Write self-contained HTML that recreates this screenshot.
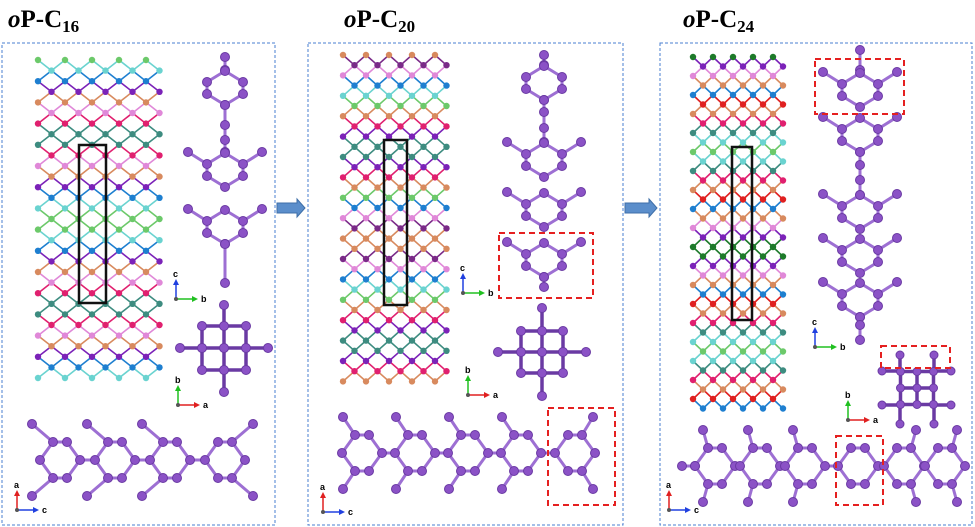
<!DOCTYPE html>
<html><head><meta charset="utf-8"><style>
body{margin:0;background:#fff;width:975px;height:527px;overflow:hidden}
.t{position:absolute;font-family:"Liberation Serif",serif;font-weight:bold;font-size:25px;color:#000}
.t i{font-style:italic}
.t sub{font-size:17px;vertical-align:-5px}
</style></head><body>
<div class="t" style="left:8px;top:6px"><i>o</i>P-C<sub>16</sub></div>
<div class="t" style="left:344px;top:6px"><i>o</i>P-C<sub>20</sub></div>
<div class="t" style="left:683px;top:6px"><i>o</i>P-C<sub>24</sub></div>
<svg id="s" width="975" height="527" style="position:absolute;left:0;top:0" xmlns="http://www.w3.org/2000/svg">
<g fill="none" stroke="#4a7fd0" stroke-width="1" stroke-dasharray="3,2">
<rect x="2" y="43" width="273" height="482"/>
<rect x="308" y="43" width="315" height="482"/>
<rect x="660" y="43" width="312" height="482"/>
</g>
<polygon points="277,203 297,203 297,199 305,208 297,217 297,213 277,213" fill="#5b8ecb" stroke="#3f6fa8"/>
<polygon points="625,203 649,203 649,199 657,208 649,217 649,213 625,213" fill="#5b8ecb" stroke="#3f6fa8"/>
</svg>
<script>
var s=document.getElementById('s'),NS='http://www.w3.org/2000/svg';
function el(n,a){var e=document.createElementNS(NS,n);for(var k in a)e.setAttribute(k,a[k]);s.appendChild(e);return e;}
var P='#8b52c6',PD='#6a3aa3';
function bond(a,b,c,w){el('line',{x1:a[0],y1:a[1],x2:b[0],y2:b[1],stroke:c||'#9d6fd3','stroke-width':w||3});}
function atom(p,r,c){el('circle',{cx:p[0],cy:p[1],r:r||4.5,fill:c||P,stroke:c?'none':PD,'stroke-width':1});}
function mol(atoms,bonds,w,r,bc){bonds.forEach(function(b){bond(atoms[b[0]],atoms[b[1]],bc,w)});atoms.forEach(function(a){atom(a,r)});}
function vring(cx,cy,sp){var A=[[cx,cy-17],[cx+18,cy-6],[cx+18,cy+6],[cx,cy+17],[cx-18,cy+6],[cx-18,cy-6]];var B=[[0,1],[1,2],[2,3],[3,4],[4,5],[5,0]];
if(sp){A.push([cx+37,cy-18]);A.push([cx-37,cy-18]);B.push([1,6]);B.push([5,7]);}mol(A,B);return A;}
function hring(cx,cy,up,dn){var A=[[cx-20,cy],[cx-7,cy-18],[cx+7,cy-18],[cx+20,cy],[cx+7,cy+18],[cx-7,cy+18]];var B=[[0,1],[1,2],[2,3],[3,4],[4,5],[5,0]];
if(up){A.push([cx+up,cy-36]);B.push([up<0?1:2,6]);}if(dn){A.push([cx+dn,cy+36]);B.push([dn<0?5:4,A.length-1]);}mol(A,B);return A;}
function vchain(x,ys){for(var i=0;i<ys.length-1;i++)bond([x,ys[i]],[x,ys[i+1]]);ys.forEach(function(y){atom([x,y])});}
function hchain(y,xs){for(var i=0;i<xs.length-1;i++)bond([xs[i],y],[xs[i+1],y]);xs.forEach(function(x){atom([x,y])});}
function hlink(y,cs){for(var i=0;i<cs.length-1;i++)bond([cs[i]+20,y],[cs[i+1]-20,y]);}
function square(cx,cy,nx,ny,d,ext,r,w){r=r||4.5;w=w||3.5;for(var i=0;i<ny;i++)for(var j=0;j<nx;j++){var x=cx+(j-(nx-1)/2)*d,y=cy+(i-(ny-1)/2)*d;
if(j<nx-1)bond([x,y],[x+d,y],PD,w);if(i<ny-1)bond([x,y],[x,y+d],PD,w);}
ext.forEach(function(e){bond(e[0],e[1],PD,w);atom(e[1],r);});
for(var i=0;i<ny;i++)for(var j=0;j<nx;j++)atom([cx+(j-(nx-1)/2)*d,cy+(i-(ny-1)/2)*d],r);}
function lattice(x0,y0,d,dy,rows,cols,C){for(var i=0;i<rows;i++){var y=y0+i*dy,o=(i%2)*d/2;for(var j=0;j<cols;j++){var x=x0+j*d+o;
if(i<rows-1){var o2=((i+1)%2)*d/2;[x-d/2,x+d/2].forEach(function(xx){if(xx>=x0+o2-1&&xx<=x0+(cols-1)*d+o2+1)bond([x,y],[xx,y+dy],C[(i+1)%C.length],1.6);});}}}
for(var i=0;i<rows;i++){var y=y0+i*dy,o=(i%2)*d/2;for(var j=0;j<cols;j++)atom([x0+j*d+o,y],3.2,C[i%C.length]);}}
function axes(x,y,a,b,ca,cb){el('line',{x1:x,y1:y,x2:x+18,y2:y,stroke:cb,'stroke-width':1.5});el('line',{x1:x,y1:y,x2:x,y2:y-16,stroke:ca,'stroke-width':1.5});
el('polygon',{points:(x+22)+','+y+' '+(x+16)+','+(y-3)+' '+(x+16)+','+(y+3),fill:cb});el('polygon',{points:x+','+(y-20)+' '+(x-3)+','+(y-14)+' '+(x+3)+','+(y-14),fill:ca});
var t=el('text',{x:x+25,y:y+3,'font-size':9,'font-family':'Liberation Sans','font-weight':'bold'});t.textContent=b;
var t2=el('text',{x:x-3,y:y-22,'font-size':9,'font-family':'Liberation Sans','font-weight':'bold'});t2.textContent=a;atom([x,y],2,'#555');}
function rbox(x,y,w,h){el('rect',{x:x,y:y,width:w,height:h,fill:'none',stroke:'#e52020','stroke-width':2,'stroke-dasharray':'6,4'});}
function cell(x,y,w,h){el('rect',{x:x,y:y,width:w,height:h,fill:'none',stroke:'#111','stroke-width':2.5});}
var g='#6cc96a',cy='#6ad3d0',bl='#1e7fd0',pu='#7b22b8',or='#d88a5e',pk='#e088d8',mg='#e0206f',tl='#3d8c80',rd='#e02020',dg='#1d7a2a',pl='#7a2a88';
// Panel 1
var C1=[g,cy,bl,pu,or,pk,mg,tl,tl,mg,pk,or,pu,bl,cy,g,g,cy,bl,pu,or,pk,mg,tl,tl,mg,pk,or,pu,bl,cy,g];
lattice(38,60,27,10.6,31,5,C1);cell(79,145,27,158);
vchain(225,[57,70]);vring(225,88);vchain(225,[105,125,140,152]);vring(225,170,1);vring(225,227,1);vchain(225,[244,283]);
axes(176,299,'c','b','#2040e0','#20c020');
square(224,348,3,3,22,[[[224,326],[224,305]],[[224,370],[224,392]],[[202,348],[180,348]],[[246,348],[268,348]]]);
axes(178,405,'b','a','#20c020','#e02020');
hlink(460,[60,115,170,225]);
hring(60,460,-28,-28);hring(115,460,-28,-28);hring(170,460,-28,-28);hring(225,460,28,28);
axes(17,510,'a','c','#e02020','#2040e0');
// Panel 2
var C2=[or,pl,pk,bl,cy,g,or,mg,pu,tl,tl,pu,mg,or,g,bl,pk,pl,or,or,pl,pk,bl,cy,g,or,mg,pu,tl,tl,pu,mg,or,g,cy,bl,pk,pl,or];
lattice(343,55,23,10.2,33,5,C2);cell(384,140,23,165);
vchain(544,[55,65]);vring(544,83);vchain(544,[100,112,128,142]);vring(544,160,1);vring(544,210,1);vring(544,260,1);vchain(544,[277,287]);
rbox(499,233,94,65);
axes(463,293,'c','b','#2040e0','#20c020');
square(542,352,3,3,21,[[[542,331],[542,308]],[[542,373],[542,396]],[[521,352],[498,352]],[[563,352],[586,352]]]);
axes(468,395,'b','a','#20c020','#e02020');
hlink(453,[362,415,468,521,575]);
hring(362,453,-19,-19);hring(415,453,-19,-19);hring(468,453,-19,-19);hring(521,453,-19,-19);hring(575,453,18,18);
rbox(548,408,67,97);
axes(323,512,'a','c','#e02020','#2040e0');
// Panel 3
var C3=[dg,pu,pk,or,bl,rd,or,mg,tl,cy,g,cy,tl,mg,or,rd,bl,or,pk,pu,dg,dg,pu,pk,or,bl,rd,or,mg,tl,cy,g,cy,tl,mg,or,rd,bl,or,pk,pu,dg];
lattice(693,57,20,9.5,38,5,C3);cell(732,147,20,173);
vchain(860,[50,70]);vring(860,90,1);vring(860,135,1);vchain(860,[152,165,180,195]);vring(860,212,1);vring(860,256,1);vring(860,300,1);vchain(860,[317,325,340]);
rbox(815,59,89,55);
axes(815,347,'c','b','#2040e0','#20c020');
square(917,388,3,3,16.5,[[[900,371],[900,355]],[[934,371],[934,355]],[[900,405],[900,424]],[[934,405],[934,424]],[[900,371],[882,371]],[[934,371],[951,371]],[[900,405],[882,405]],[[934,405],[951,405]]],4,3.5);
rbox(881,346,69,22);
axes(848,420,'b','a','#20c020','#e02020');
hchain(466,[682,695]);
hlink(466,[715,760,805,858,904,945]);
hring(715,466,-12,-12);hring(760,466,-12,-12);hring(805,466,-12,-12);hring(858,466,0,0);hring(904,466,12,12);hring(945,466,12,12);
rbox(836,436,47,69);
axes(669,510,'a','c','#e02020','#2040e0');
</script>
</body></html>
